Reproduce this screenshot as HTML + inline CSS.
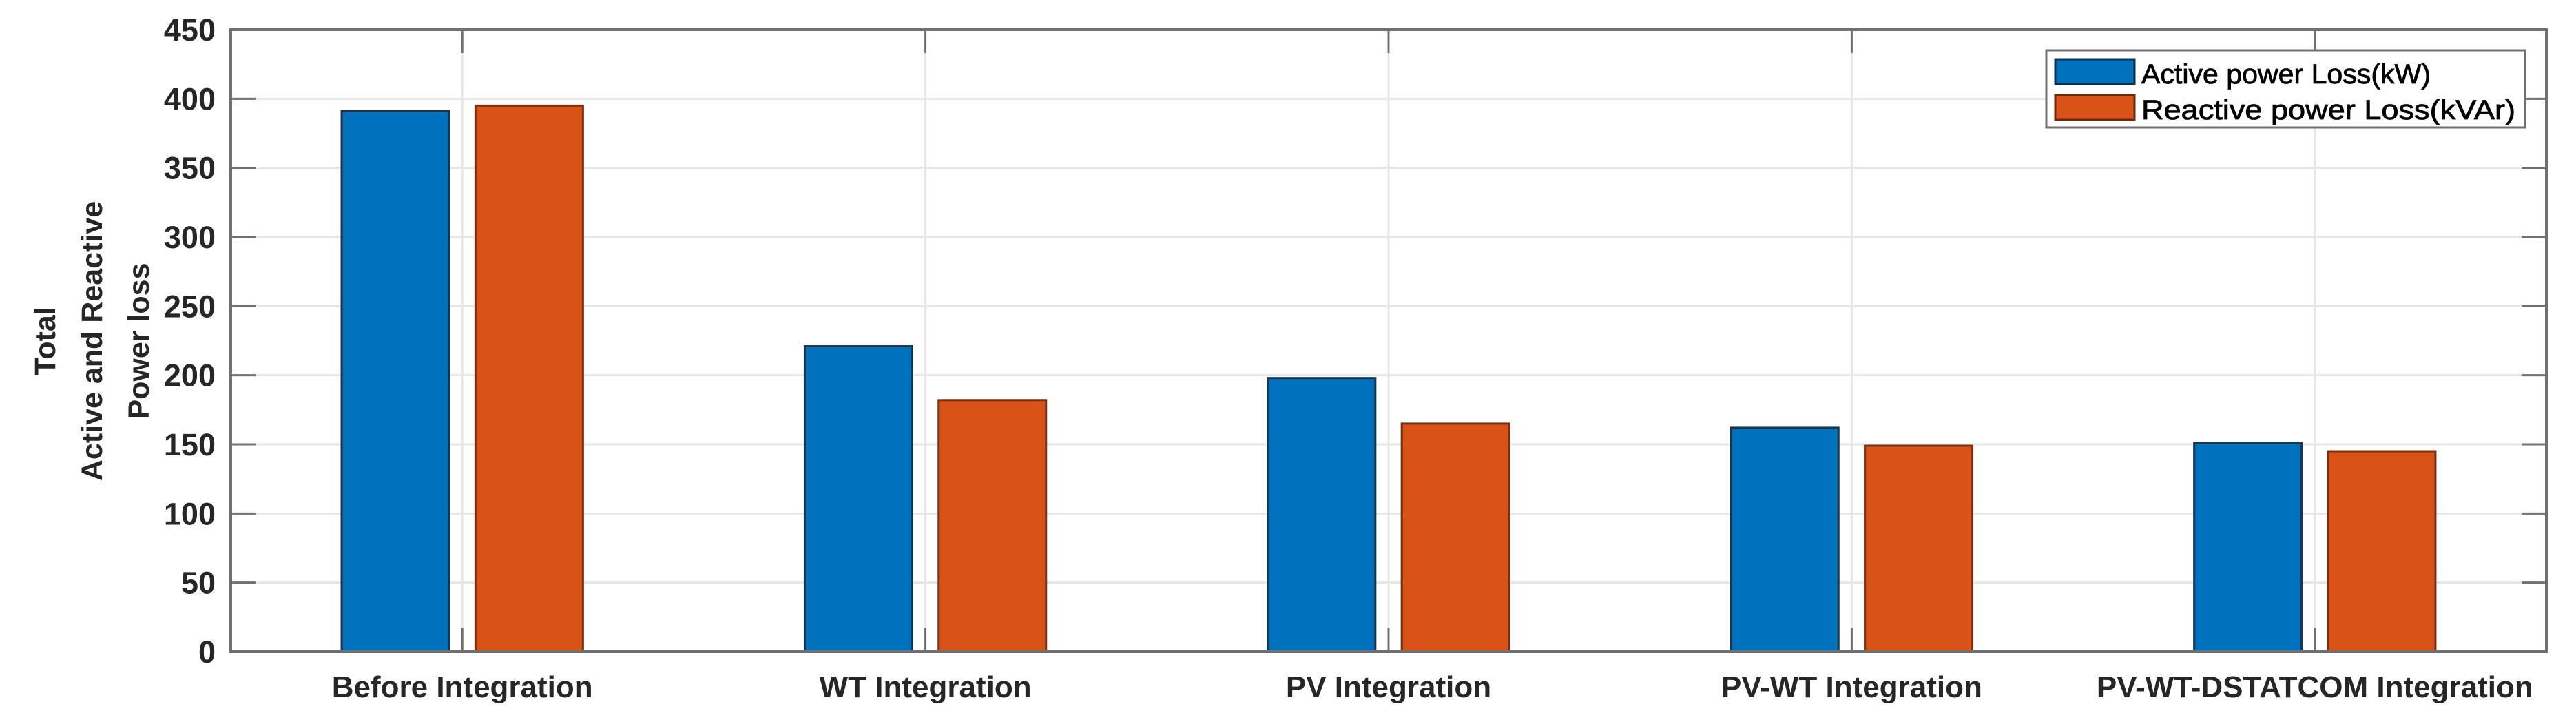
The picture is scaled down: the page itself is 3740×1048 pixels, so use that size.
<!DOCTYPE html>
<html><head><meta charset="utf-8"><style>
html,body{margin:0;padding:0;background:#fff;}
svg{display:block;font-family:"Liberation Sans",Arial,sans-serif;}
</style></head><body>
<svg id="chart" width="3740" height="1048" viewBox="0 0 3740 1048" xmlns="http://www.w3.org/2000/svg">
<rect x="0" y="0" width="3740" height="1048" fill="#fff"/>
<g id="grid"></g>
<g id="bars"></g>
<g id="axes"></g>
<g font-weight="bold" font-size="43" fill="#262626" text-anchor="middle">
  <text transform="translate(80,495) rotate(-90)">Total</text>
  <text transform="translate(148,495) rotate(-90)">Active and Reactive</text>
  <text transform="translate(216,495) rotate(-90)">Power loss</text>
</g>
<g>
  <rect x="2971" y="73" width="695" height="112" fill="#fff" stroke="#707070" stroke-width="3"/>
  <rect x="2984" y="86" width="115" height="36" fill="#0072bd" stroke="#0c2f4f" stroke-width="3"/>
  <text x="3109" y="121" font-size="40" fill="#000" stroke="#000" stroke-width="0.8" textLength="420" lengthAdjust="spacingAndGlyphs">Active power Loss(kW)</text>
  <rect x="2984" y="138" width="115" height="36" fill="#d95319" stroke="#6b2a0e" stroke-width="3"/>
  <text x="3109" y="173" font-size="40" fill="#000" stroke="#000" stroke-width="0.8" textLength="543" lengthAdjust="spacingAndGlyphs">Reactive power Loss(kVAr)</text>
</g>
</svg>
<script>
const categories = ["Before Integration","WT Integration","PV Integration","PV-WT Integration","PV-WT-DSTATCOM Integration"];
const activeLoss = [391, 221, 198, 162, 151];
const reactiveLoss = [395, 182, 165, 149, 145];
const yTicks = [0,50,100,150,200,250,300,350,400,450];

const NS = "http://www.w3.org/2000/svg";
const L = 335, R = 3697, T = 43, B = 946;
const yMin = 0, yMax = 450;
function y(v){ return B - (v - yMin) / (yMax - yMin) * (B - T); }
function x(i){ return L + (i + 0.5) * (R - L) / categories.length; }
const catW = (R - L) / categories.length;
const barW = catW * 0.232, gap = catW * 0.057;
function mk(tag, attrs, parent){ const e = document.createElementNS(NS, tag); for (const k in attrs) e.setAttribute(k, attrs[k]); parent.appendChild(e); return e; }

const grid = document.getElementById('grid');
const bars = document.getElementById('bars');
const axes = document.getElementById('axes');

yTicks.forEach(t => {
  const g = mk('line', {x1:L, x2:R, y1:y(t), y2:y(t), stroke:'#e6e6e6', 'stroke-width':3}, grid);
  
  
});
categories.forEach((c, i) => {
  const g = mk('line', {x1:x(i), x2:x(i), y1:T, y2:B, stroke:'#e6e6e6', 'stroke-width':3}, grid);
  
  
});

categories.forEach((c, i) => {
  const a = mk('rect', {x:x(i) - gap/2 - barW, y:y(activeLoss[i]), width:barW, height:y(0) - y(activeLoss[i]), fill:'#0072bd', stroke:'#1a3550', 'stroke-width':3}, bars);
  
  
  const r = mk('rect', {x:x(i) + gap/2, y:y(reactiveLoss[i]), width:barW, height:y(0) - y(reactiveLoss[i]), fill:'#d95319', stroke:'#7a3010', 'stroke-width':3}, bars);
  
  
});

const frame = mk('rect', {x:L, y:T, width:R-L, height:B-T, fill:'none', stroke:'#707070', 'stroke-width':4}, axes);



yTicks.forEach(t => {
  const tk = mk('line', {x1:L, x2:L+36, y1:y(t), y2:y(t), stroke:'#707070', 'stroke-width':3}, axes);
  
  
  const tk2 = mk('line', {x1:R, x2:R-36, y1:y(t), y2:y(t), stroke:'#707070', 'stroke-width':3}, axes);
  
  
  const lb = mk('text', {x:L-22, y:y(t)+16, 'text-anchor':'end', 'font-size':45, 'font-weight':'bold', fill:'#262626'}, axes);
  lb.textContent = t;
  
  
});
categories.forEach((c, i) => {
  const tk = mk('line', {x1:x(i), x2:x(i), y1:B, y2:B-34, stroke:'#707070', 'stroke-width':3}, axes);
  
  
  const tk2 = mk('line', {x1:x(i), x2:x(i), y1:T, y2:T+34, stroke:'#707070', 'stroke-width':3}, axes);
  
  
  const lb = mk('text', {x:x(i), y:1012, 'text-anchor':'middle', 'font-size':44, 'font-weight':'bold', fill:'#262626'}, axes);
  lb.textContent = c;
  
  
});
</script>
</body></html>
